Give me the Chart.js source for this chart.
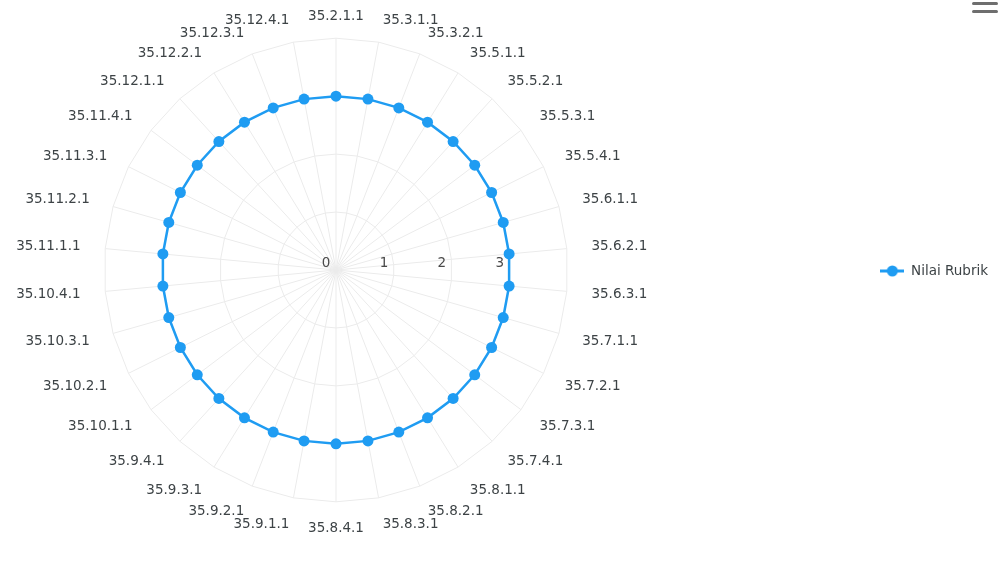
<!DOCTYPE html>
<html>
<head>
<meta charset="utf-8">
<title>Nilai Rubrik</title>
<script src="https://cdn.jsdelivr.net/npm/chart.js@4.4.1/dist/chart.umd.min.js"></script>
<style>
  html, body { margin: 0; padding: 0; background: #fff; }
  #wrap { position: relative; width: 998px; height: 573px; }
  .menu-bar { position: absolute; left: 972px; width: 26px; height: 3px; background: #6e6e6e; border-radius: 2px; }
</style>
</head>
<body>
<div id="wrap">
  <canvas id="rubrik-chart"></canvas>
  <span class="menu-bar" style="top: 2px"></span>
  <span class="menu-bar" style="top: 10px"></span>
</div>
<script>
// Rubric items, clockwise from the top
const rubrikLabels = [
    '35.2.1.1', '35.3.1.1', '35.3.2.1', '35.5.1.1', '35.5.2.1', '35.5.3.1', '35.5.4.1',
    '35.6.1.1', '35.6.2.1', '35.6.3.1', '35.7.1.1', '35.7.2.1', '35.7.3.1', '35.7.4.1',
    '35.8.1.1', '35.8.2.1', '35.8.3.1', '35.8.4.1', '35.9.1.1', '35.9.2.1', '35.9.3.1',
    '35.9.4.1', '35.10.1.1', '35.10.2.1', '35.10.3.1', '35.10.4.1', '35.11.1.1', '35.11.2.1',
    '35.11.3.1', '35.11.4.1', '35.12.1.1', '35.12.2.1', '35.12.3.1', '35.12.4.1'
];

// Every item scored 3
const nilaiRubrik = [
    3, 3, 3, 3, 3, 3, 3,
    3, 3, 3, 3, 3, 3, 3,
    3, 3, 3, 3, 3, 3, 3,
    3, 3, 3, 3, 3, 3, 3,
    3, 3, 3, 3, 3, 3
];

const tickValues = [0, 1, 2, 3];
const scaleMax = 4;

const seriesColor = '#1f9cf2';
const textColor = '#3d4346';
const gridColor = '#ebebeb';
const fontFamily = '"DejaVu Sans", sans-serif';

// Legend marker: short line with a dot in the middle
function makeLegendMarker(color) {
    const c = document.createElement('canvas');
    c.width = 24;
    c.height = 12;
    const g = c.getContext('2d');
    g.strokeStyle = color;
    g.lineWidth = 3;
    g.beginPath();
    g.moveTo(0, 6);
    g.lineTo(24, 6);
    g.stroke();
    g.fillStyle = color;
    g.beginPath();
    g.arc(12, 6, 5.5, 0, Math.PI * 2);
    g.fill();
    return c;
}

// Center the point labels vertically on their anchor,
// and push the lower ones a little further out
const centerPointLabels = {
    id: 'centerPointLabels',
    afterLayout(chart) {
        const scale = chart.scales.r;
        (scale._pointLabelItems || []).forEach((item, i) => {
            const angle = scale.getIndexAngle(i);
            const deg = Math.round(angle * 180 / Math.PI) % 360;
            if (deg === 90 || deg === 270) return;
            const half = (item.bottom - item.top) / 2;
            let shift = (deg > 270 || deg < 90) ? half : -half;
            if (deg > 90 && deg < 270) shift += -5 * Math.cos(angle);
            item.y += shift;
            item.top += shift;
            item.bottom += shift;
        });
    }
};

// Value labels along the horizontal radius
const radialTicks = {
    id: 'radialTicks',
    beforeDatasetsDraw(chart) {
        const scale = chart.scales.r;
        const ctx = chart.ctx;
        ctx.save();
        ctx.font = '13.5px ' + fontFamily;
        ctx.fillStyle = '#4a4a4a';
        ctx.textAlign = 'center';
        ctx.textBaseline = 'middle';
        tickValues.forEach(v => {
            const d = scale.getDistanceFromCenterForValue(v);
            ctx.fillText(String(v), scale.xCenter + d - 10, scale.yCenter - 7);
        });
        ctx.restore();
    }
};

new Chart(document.getElementById('rubrik-chart'), {
    type: 'radar',
    data: {
        labels: rubrikLabels,
        datasets: [{
            label: 'Nilai Rubrik',
            data: nilaiRubrik,
            borderColor: seriesColor,
            backgroundColor: seriesColor,
            pointBackgroundColor: seriesColor,
            pointBorderColor: seriesColor,
            pointRadius: 5.5,
            pointBorderWidth: 0,
            borderWidth: 2.5,
            fill: false
        }]
    },
    options: {
        responsive: true,
        maintainAspectRatio: false,
        animation: false,
        layout: {
            padding: { top: 1, bottom: 32, left: 0, right: 0 }
        },
        scales: {
            r: {
                min: 0,
                max: scaleMax,
                ticks: { display: false, stepSize: 1 },
                grid: { color: gridColor, lineWidth: 1 },
                angleLines: { color: gridColor, lineWidth: 1 },
                pointLabels: {
                    padding: ctx => 25 - 3 * Math.abs(Math.cos(2 * Math.PI * ctx.index / rubrikLabels.length)),
                    color: textColor,
                    font: { family: fontFamily, size: 13.5 }
                }
            }
        },
        plugins: {
            legend: {
                position: 'right',
                labels: {
                    padding: 216,
                    usePointStyle: true,
                    pointStyle: makeLegendMarker(seriesColor),
                    pointStyleWidth: 24,
                    color: textColor,
                    font: { family: fontFamily, size: 13.5 }
                }
            },
            tooltip: { enabled: false }
        }
    },
    plugins: [centerPointLabels, radialTicks]
});
</script>
</body>
</html>
